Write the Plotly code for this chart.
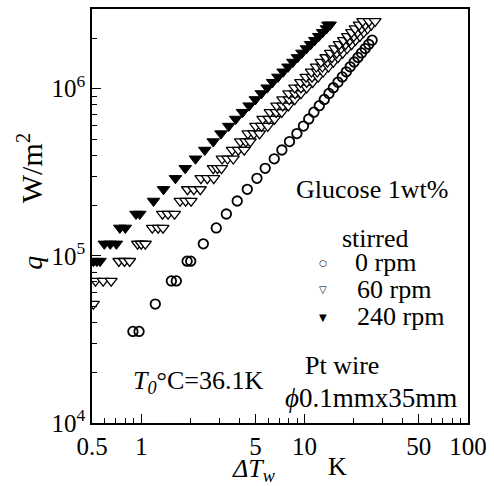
import plotly.graph_objects as go

# ---------------- data ----------------
# 0 rpm (open circles): heat flux q [W/m^2] and superheat dT [K]
q_0rpm = [35300, 35300, 51500, 70800, 70800, 93000, 93000, 118000, 147000, 178000,
          213000, 250000, 291000, 334000, 381000, 430000, 483000, 539000, 598000,
          659000, 724000, 792000, 863000, 937000, 1014000, 1094000, 1177000, 1263000,
          1353000, 1445000, 1540000, 1638000, 1740000, 1844000, 1952000]
dT_0rpm = [0.89, 0.97, 1.22, 1.53, 1.64, 1.91, 2.01, 2.40, 2.88, 3.32,
           3.87, 4.46, 5.11, 5.74, 6.52, 7.26, 8.08, 8.97, 9.84,
           10.6, 11.4, 12.3, 13.2, 14.1, 15.0, 16.0, 17.0, 18.0,
           19.0, 20.1, 21.2, 22.3, 23.5, 24.7, 25.9]

# 60 rpm (open down-triangles)
q_60rpm = [51500,
           70800, 70800, 70800, 93000, 93000, 93000, 118000, 118000, 118000,
           147000, 147000, 147000, 178000, 178000, 178000, 213000, 213000, 213000,
           250000, 250000, 250000, 291000, 291000, 291000, 334000, 334000, 334000,
           381000, 381000, 381000, 430000, 430000, 430000, 483000, 483000, 483000,
           539000, 539000, 539000, 598000, 598000, 598000, 659000, 659000, 659000,
           724000, 724000, 724000, 792000, 792000, 792000, 863000, 863000, 863000,
           937000, 937000, 937000, 1014000, 1014000, 1014000, 1094000, 1094000, 1094000,
           1177000, 1177000, 1177000, 1263000, 1263000, 1263000, 1353000, 1353000, 1353000,
           1445000, 1445000, 1445000, 1540000, 1540000, 1540000, 1638000, 1638000, 1638000,
           1740000, 1740000, 1740000, 1844000, 1844000, 1844000, 1952000, 1952000, 1952000,
           2062000, 2062000, 2062000, 2176000, 2176000, 2176000, 2292000, 2292000, 2292000,
           2412000, 2412000, 2412000, 2534000, 2534000, 2534000]
dT_60rpm = [0.51,
            0.525, 0.585, 0.655, 0.73, 0.79, 0.85, 0.95, 1.00, 1.06,
            1.17, 1.27, 1.36, 1.35, 1.46, 1.60, 1.73, 1.87, 2.02,
            1.92, 2.10, 2.30, 2.32, 2.54, 2.78, 2.76, 2.93, 3.10,
            3.13, 3.38, 3.66, 3.61, 3.93, 4.27, 4.05, 4.37, 4.65,
            4.50, 4.90, 5.30, 5.02, 5.45, 5.95, 5.55, 6.05, 6.55,
            6.15, 6.70, 7.25, 6.75, 7.35, 7.95, 7.35, 8.05, 8.70,
            8.00, 8.75, 9.50, 8.70, 9.50, 10.3, 9.45, 10.3, 11.2,
            10.2, 11.1, 12.1, 11.0, 11.95, 13.0, 11.8, 12.85, 14.0,
            12.6, 13.8, 15.0, 13.5, 14.7, 16.0, 14.4, 15.7, 17.1,
            15.3, 16.7, 18.2, 16.3, 17.8, 19.4, 17.3, 18.9, 20.5,
            18.3, 20.0, 21.8, 19.4, 21.1, 23.0, 20.4, 22.3, 24.3,
            21.6, 23.5, 25.6, 22.7, 24.8, 27.0]

# 240 rpm (filled down-triangles)
q_240rpm = [93000, 93000, 93000, 118000, 118000, 118000, 147000, 147000, 178000, 178000,
            213000, 250000, 291000, 334000, 381000, 430000, 483000, 539000, 598000,
            659000, 724000, 792000, 863000, 937000, 1014000, 1094000, 1177000, 1263000,
            1353000, 1445000, 1540000, 1638000, 1740000, 1844000, 1952000, 2062000,
            2176000, 2292000, 2412000, 2412000]
dT_240rpm = [0.51, 0.535, 0.56, 0.595, 0.647, 0.705, 0.74, 0.80, 0.93, 0.98,
             1.19, 1.37, 1.62, 1.86, 2.15, 2.45, 2.76, 3.08, 3.43,
             3.79, 4.17, 4.58, 5.00, 5.44, 5.90, 6.37, 6.87, 7.39,
             7.92, 8.48, 9.05, 9.64, 10.26, 10.89, 11.54, 12.21,
             12.90, 13.61, 13.9, 14.34]

# axis ticks
x_ticks = [0.5, 1, 5, 10, 50, 100]
x_ticktext = ["0.5", "1", "5", "10", "50", "100"]
x_minor = [0.6, 0.7, 0.8, 0.9, 2, 3, 4, 6, 7, 8, 9, 20, 30, 40, 60, 70, 80, 90]
y_ticks = [1e4, 1e5, 1e6]
y_ticktext = ["10<sup>4</sup>", "10<sup>5</sup>", "10<sup>6</sup>"]
y_minor = [m * d for d in (1e4, 1e5, 1e6) for m in range(2, 10) if m * d <= 3e6]

# ---------------- layout geometry ----------------
W_FIG, H_FIG = 494, 486
L, R, T, B = 92, 468, 7, 423
FONT = "Liberation Serif"


def xp(px):
    return (px - L) / (R - L)


def yp(py):
    return (B - py) / (B - T)


fig = go.Figure()
fig.add_trace(go.Scatter(
    x=dT_0rpm, y=q_0rpm, mode="markers", name="0 rpm",
    marker=dict(symbol="circle-open", size=9.5, color="black", line=dict(width=1.8, color="black"))))
fig.add_trace(go.Scatter(
    x=dT_60rpm, y=q_60rpm, mode="markers", name="60 rpm",
    marker=dict(symbol="triangle-down", size=10.5, color="white", line=dict(width=1.3, color="black"))))
fig.add_trace(go.Scatter(
    x=dT_240rpm, y=q_240rpm, mode="markers", name="240 rpm",
    marker=dict(symbol="triangle-down", size=11, color="black", line=dict(width=1, color="black"))))

axis_common = dict(
    showgrid=False, zeroline=False, showline=True, linecolor="black", linewidth=1.5,
    mirror=True, ticks="inside", tickcolor="black", tickwidth=1.2, ticklen=9,
    tickfont=dict(family=FONT, size=25, color="black"),
)
fig.update_xaxes(type="log", range=[-0.30103, 2], tickmode="array",
                 tickvals=x_ticks, ticktext=x_ticktext,
                 minor=dict(tickmode="array", tickvals=x_minor, ticks="inside",
                            ticklen=5, tickwidth=1.2, tickcolor="black"),
                 **axis_common)
fig.update_yaxes(type="log", range=[4, 6.4771], tickmode="array",
                 tickvals=y_ticks, ticktext=y_ticktext,
                 minor=dict(tickmode="array", tickvals=y_minor, ticks="inside",
                            ticklen=5, tickwidth=1.2, tickcolor="black"),
                 **axis_common)

ann = []


def add_text(text, px, py, size=26, xanchor="left", angle=0):
    ann.append(dict(text=text, x=xp(px), y=yp(py), xref="paper", yref="paper",
                    xanchor=xanchor, yanchor="middle", showarrow=False, textangle=angle,
                    font=dict(family=FONT, size=size, color="black")))


add_text("Glucose 1wt%", 372, 188, xanchor="center")
add_text("stirred", 375, 238, xanchor="center")
add_text("0 rpm", 353, 262)
add_text("60 rpm", 355, 289)
add_text("240 rpm", 355, 316)
add_text("Pt wire", 303, 365)
add_text("<i>\u03d5</i>0.1mmx35mm", 283, 398, size=27)
add_text("<i>T</i><sub><i>0</i></sub>\u00b0C=36.1K", 131, 382)
add_text("<i>\u0394T</i><sub><i>w</i></sub>", 253, 470, xanchor="center")
add_text("K", 337, 467, xanchor="center")
add_text("<i>q</i>", 33, 262, size=28, xanchor="center", angle=-90)
add_text("W/m<sup>2</sup>", 30, 167, size=30, xanchor="center", angle=-90)

# legend glyphs (text symbols)
for sym, py, sz in (("\u25cb", 262, 9), ("\u25bd", 289, 10), ("\u25bc", 317, 10)):
    ann.append(dict(text=sym, x=xp(323), y=yp(py), xref="paper", yref="paper",
                    xanchor="center", yanchor="middle", showarrow=False,
                    font=dict(family="DejaVu Sans", size=sz, color="black")))

fig.update_layout(
    width=W_FIG, height=H_FIG,
    margin=dict(l=L, r=W_FIG - R, t=T, b=H_FIG - B),
    paper_bgcolor="white", plot_bgcolor="white",
    showlegend=False, annotations=ann,
    font=dict(family=FONT, color="black"),
)

fig.write_html("out.html")
